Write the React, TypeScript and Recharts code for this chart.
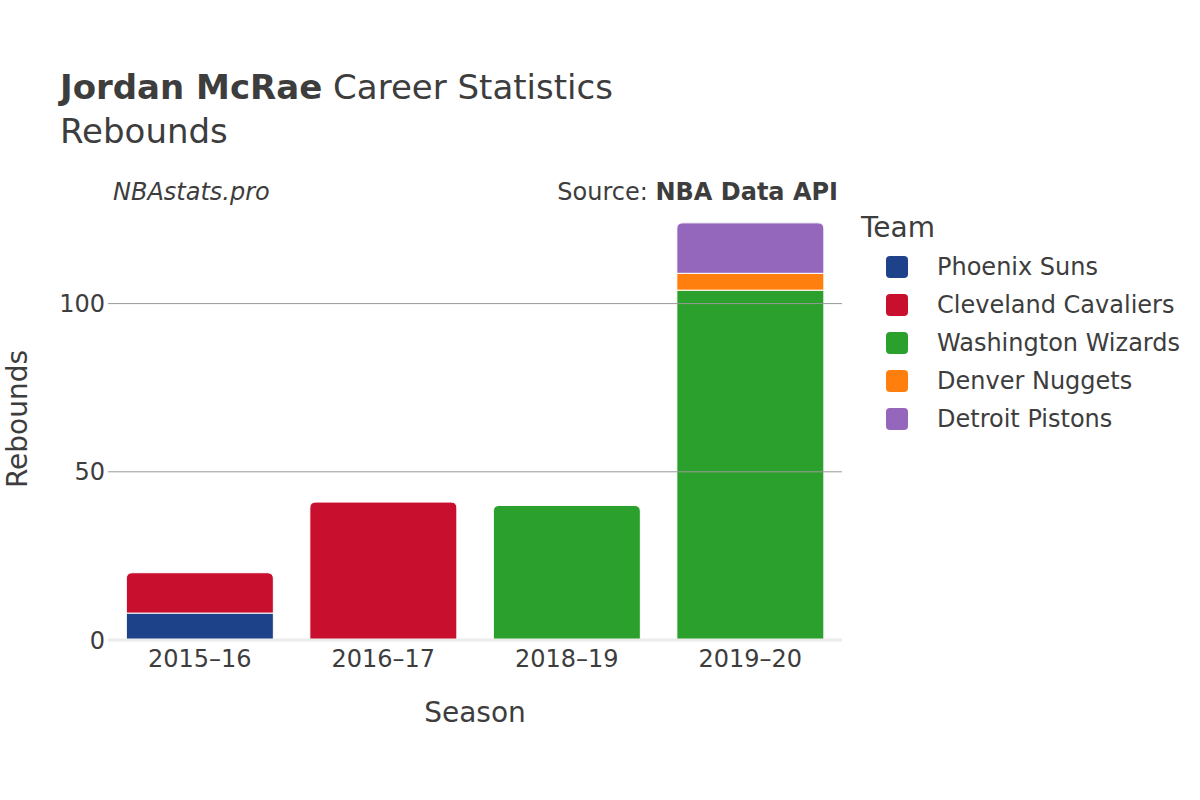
import { BarChart, Bar, XAxis, YAxis, ReferenceLine } from 'recharts'

const seasons = ['2015–16', '2016–17', '2018–19', '2019–20']
const teams = ['Phoenix Suns', 'Cleveland Cavaliers', 'Washington Wizards', 'Denver Nuggets', 'Detroit Pistons']
const teamColors = ['#1d428a', '#c8102e', '#2ca02c', '#ff7f0e', '#9467bd']

const phoenix = [8, 0, 0, 0]
const cleveland = [12, 41, 0, 0]
const washington = [0, 0, 40, 104]
const denver = [0, 0, 0, 5]
const detroit = [0, 0, 0, 15]

const yTicks = [0, 50, 100]
const gridLines = [50, 100]

const seriesValues = [phoenix, cleveland, washington, denver, detroit]

const data = seasons.map((season, i) => {
  const row: Record<string, number | string> = { season }
  teams.forEach((t, j) => { row[t] = seriesValues[j][i] })
  // last team with a value sits on top of the stack
  let top = ''
  teams.forEach((t, j) => { if (seriesValues[j][i] > 0) top = t })
  row.top = top
  return row
})

const FONT = '"DejaVu Sans", sans-serif'
const TEXT = '#3d3d3d'

function makeShape(team: string) {
  return (props: any) => {
    const { x, y, width, height, fill, payload } = props
    if (!height || height <= 0) return <g />
    const isTop = payload && payload.top === team
    const r = isTop ? Math.min(6, height, width / 2) : 0
    const d = `M${x},${y + height} L${x},${y + r} Q${x},${y} ${x + r},${y} L${x + width - r},${y} Q${x + width},${y} ${x + width},${y + r} L${x + width},${y + height} Z`
    return <path d={d} fill={fill} stroke="#fff" strokeWidth={1} />
  }
}

export default function App() {
  return (
    <div style={{ position: 'absolute', left: 0, top: 0, width: 1200, height: 800, background: '#fff', fontFamily: FONT, color: TEXT }}>
      <BarChart
        width={1200}
        height={800}
        data={data}
        margin={{ top: 201, right: 358, bottom: 120, left: 48 }}
        barCategoryGap="10%"
      >
        <XAxis
          dataKey="season"
          axisLine={false}
          tickLine={false}
          height={40}
          tickMargin={4}
          tick={{ fontSize: 24, fill: TEXT, fontFamily: FONT }}
        />
        <YAxis
          width={60}
          domain={[0, 130.5]}
          ticks={yTicks}
          axisLine={false}
          tickLine={false}
          tickSize={0}
          tickMargin={3}
          tick={{ fontSize: 24, fill: TEXT, fontFamily: FONT }}
        />
        {gridLines.map(v => (
          <ReferenceLine key={v} y={v} stroke="#999" strokeWidth={1} />
        ))}
        <ReferenceLine y={0} stroke="#ebebeb" strokeWidth={3} />
        {teams.map((t, j) => (
          <Bar key={t} dataKey={t} stackId="a" fill={teamColors[j]} shape={makeShape(t)} isAnimationActive={false} />
        ))}
      </BarChart>

      <div style={{ position: 'absolute', left: 60, top: 67, fontSize: 34, whiteSpace: 'nowrap' }}>
        <span style={{ fontWeight: 'bold' }}>Jordan McRae</span> Career Statistics
      </div>
      <div style={{ position: 'absolute', left: 60, top: 111, fontSize: 34, whiteSpace: 'nowrap' }}>Rebounds</div>
      <div style={{ position: 'absolute', left: 113, top: 178, fontSize: 24, fontStyle: 'italic', whiteSpace: 'nowrap' }}>NBAstats.pro</div>
      <div style={{ position: 'absolute', right: 1200 - 838, top: 178, fontSize: 24, whiteSpace: 'nowrap' }}>
        Source: <span style={{ fontWeight: 'bold' }}>NBA Data API</span>
      </div>

      <div style={{ position: 'absolute', left: 475, top: 712, transform: 'translate(-50%, -50%)', fontSize: 28, whiteSpace: 'nowrap' }}>Season</div>
      <div style={{ position: 'absolute', left: 17, top: 419, transform: 'translate(-50%, -50%) rotate(-90deg)', fontSize: 28, whiteSpace: 'nowrap' }}>Rebounds</div>

      <div style={{ position: 'absolute', left: 861, top: 211, fontSize: 28, whiteSpace: 'nowrap' }}>Team</div>
      {teams.map((t, j) => (
        <div key={t} style={{ position: 'absolute', left: 886, top: 256 + j * 38, height: 22, display: 'flex', alignItems: 'center', whiteSpace: 'nowrap' }}>
          <div style={{ width: 22, height: 22, borderRadius: 4, background: teamColors[j] }} />
          <div style={{ marginLeft: 29, fontSize: 24 }}>{t}</div>
        </div>
      ))}
    </div>
  )
}
